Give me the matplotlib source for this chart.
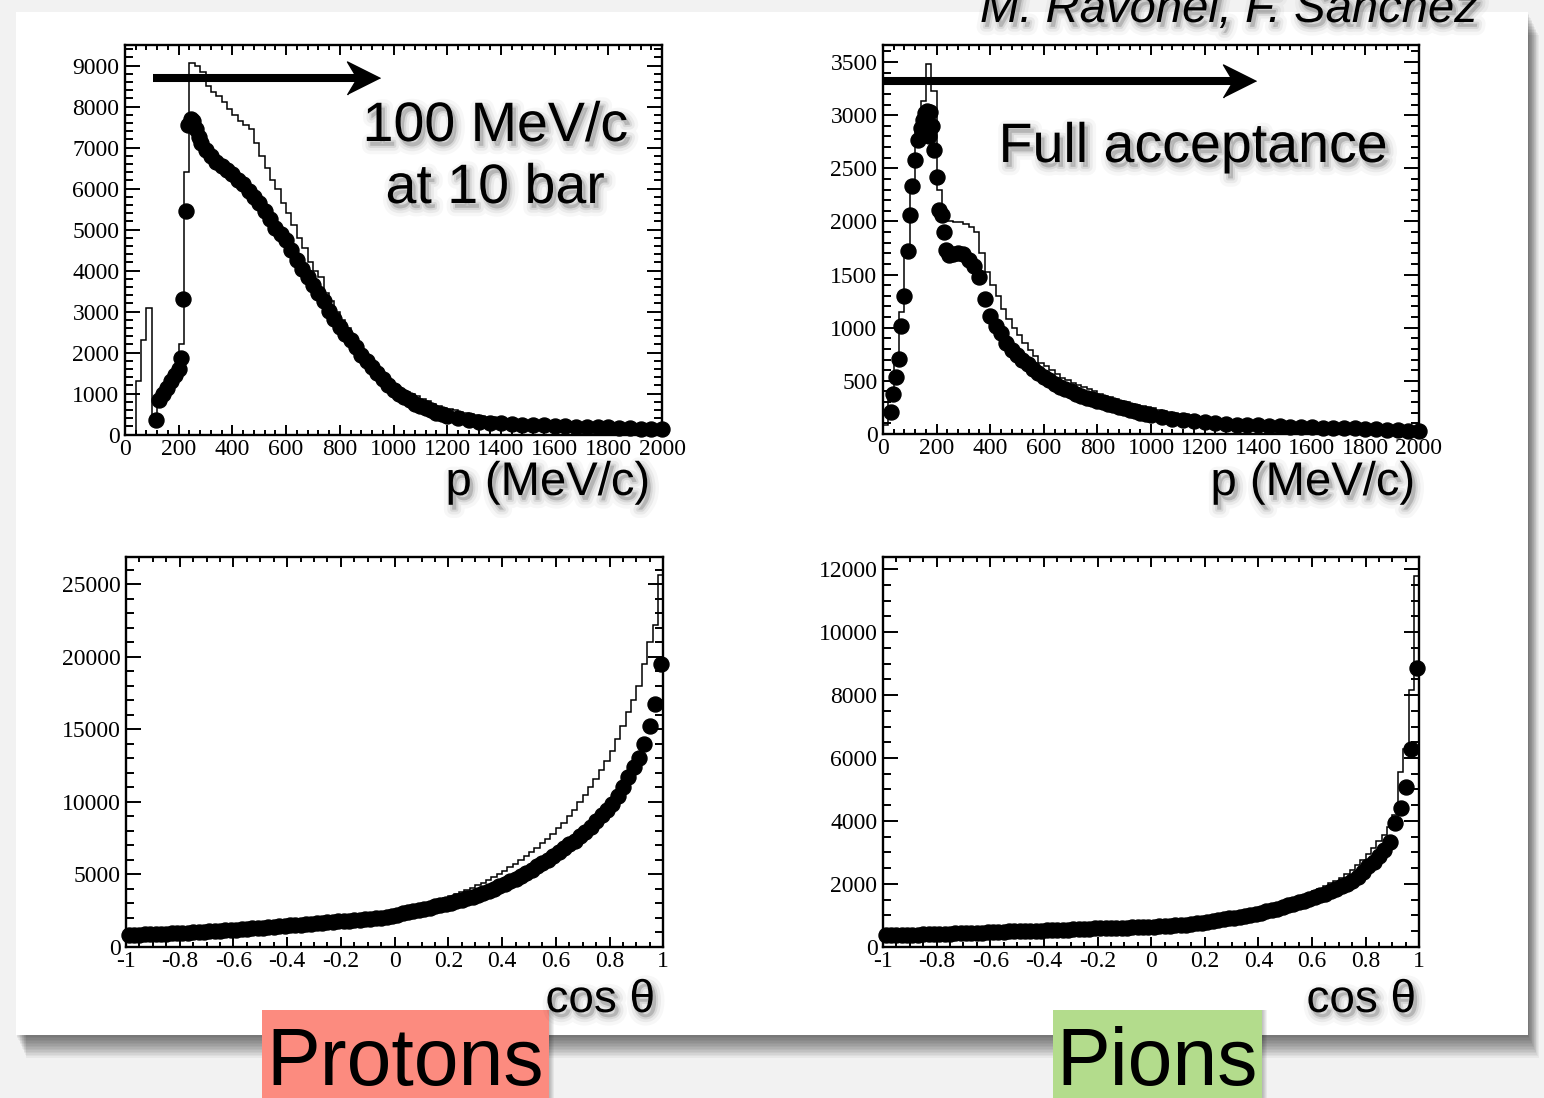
import numpy as np
import matplotlib
matplotlib.use('Agg')
import matplotlib.pyplot as plt
from matplotlib.patches import Rectangle
import matplotlib.patheffects as pe
from matplotlib.ticker import MultipleLocator, FuncFormatter

# ---------------- data ----------------
# Top-left: protons, momentum (MeV/c), 20 MeV bins 0..2000
P_EDGES = np.arange(0, 2001, 20)
PROTON_P_HIST = [0, 0, 1300, 2300, 3100, 400, 1000, 1200, 1400, 1600,
                 2200, 6400, 9050, 9000, 8850, 8500, 8350, 8250, 8100, 7950,
                 7800, 7650, 7550, 7450, 7100, 6800, 6500, 6200, 6000, 5650,
                 5400, 5100, 4800, 4550, 4200, 4000, 3850, 3450, 3250, 3000,
                 2800, 2600, 2350, 2200, 2000, 1850, 1750, 1600, 1450, 1300,
                 1200, 1100, 1050, 1000, 940, 880, 820, 760, 700, 650,
                 620, 590, 560, 530, 500, 480, 460, 440, 420, 400,
                 390, 375, 360, 350, 340, 330, 320, 310, 305, 300,
                 295, 290, 285, 280, 275, 270, 265, 260, 255, 250,
                 245, 240, 235, 230, 225, 220, 215, 210, 205, 200]
PROTON_P_DOT_X = [115, 125, 140, 155, 170, 185, 200, 208, 217, 226,
                  234, 244, 254, 264, 274, 284, 300, 320, 340, 360,
                  380, 400, 420, 440, 460, 480, 500, 520, 540, 560,
                  580, 600, 620, 640, 660, 680, 700, 720, 740, 760,
                  780, 800, 820, 840, 860, 880, 900, 920, 940, 960,
                  980, 1000, 1020, 1040, 1060, 1080, 1100, 1120, 1140, 1160,
                  1180, 1200, 1240, 1280, 1320, 1360, 1400, 1440, 1480, 1520,
                  1560, 1600, 1640, 1680, 1720, 1760, 1800, 1840, 1880, 1920,
                  1960, 2000]
PROTON_P_DOT_Y = [350, 850, 1000, 1150, 1300, 1450, 1600, 1860, 3300, 5450,
                  7550, 7700, 7650, 7450, 7250, 7100, 6950, 6800, 6650, 6550,
                  6450, 6350, 6200, 6100, 5950, 5800, 5650, 5450, 5250, 5050,
                  4900, 4750, 4500, 4250, 4050, 3850, 3650, 3450, 3250, 3020,
                  2820, 2620, 2450, 2300, 2150, 1950, 1800, 1650, 1500, 1350,
                  1200, 1100, 1000, 920, 840, 760, 700, 640, 590, 540,
                  500, 460, 400, 350, 315, 290, 275, 260, 245, 235,
                  225, 215, 205, 195, 190, 185, 180, 170, 160, 150,
                  140, 130]

# Top-right: pions, momentum
PION_P_HIST = [80, 350, 700, 1150, 1750, 2350, 2880, 3130, 3480, 3230,
               2300, 2100, 2000, 1990, 1990, 1980, 1950, 1900, 1700, 1520,
               1400, 1300, 1180, 1080, 1000, 930, 860, 790, 730, 670,
               640, 600, 560, 530, 505, 480, 460, 440, 420, 400,
               380, 360, 345, 330, 315, 300, 285, 270, 260, 250,
               240, 230, 220, 210, 200, 192, 184, 176, 168, 160,
               153, 146, 140, 134, 128, 123, 118, 113, 108, 104,
               100, 96, 92, 89, 86, 83, 80, 77, 75, 72,
               70, 68, 66, 64, 62, 60, 58, 57, 55, 54,
               52, 51, 50, 48, 47, 46, 45, 44, 43, 42]
PION_P_DOT_X = [28, 38, 48, 58, 68, 80, 92, 102, 110, 120,
                130, 140, 148, 156, 166, 170, 176, 184, 192, 202,
                210, 220, 228, 236, 248, 260, 280, 300, 320, 340,
                360, 380, 400, 420, 440, 460, 480, 500, 520, 540,
                560, 580, 600, 620, 640, 660, 680, 700, 720, 740,
                760, 780, 800, 820, 840, 860, 880, 900, 920, 940,
                960, 980, 1000, 1040, 1080, 1120, 1160, 1200, 1240, 1280,
                1320, 1360, 1400, 1440, 1480, 1520, 1560, 1600, 1640, 1680,
                1720, 1760, 1800, 1840, 1880, 1920, 1960, 2000]
PION_P_DOT_Y = [210, 380, 540, 710, 1020, 1300, 1720, 2060, 2330, 2580,
                2770, 2880, 2950, 3020, 3040, 2800, 3030, 2900, 2670, 2420,
                2110, 2060, 1900, 1730, 1680, 1690, 1700, 1690, 1640, 1580,
                1480, 1270, 1110, 1020, 950, 860, 790, 740, 695, 660,
                615, 575, 540, 505, 470, 445, 425, 400, 380, 360,
                340, 325, 312, 298, 284, 272, 258, 243, 228, 214,
                202, 190, 178, 160, 140, 130, 120, 110, 102, 95,
                88, 84, 80, 75, 72, 68, 66, 62, 60, 57,
                55, 52, 50, 45, 40, 35, 30, 25]

# Bottom: cos(theta), 100 bins from -1 to 1
C_EDGES = np.linspace(-1, 1, 101)
PROTON_C_HIST = [950, 960, 970, 985, 1000, 1010, 1025, 1040, 1055, 1070,
                 1090, 1110, 1130, 1150, 1170, 1190, 1210, 1235, 1260, 1285,
                 1310, 1340, 1370, 1400, 1430, 1460, 1490, 1520, 1550, 1580,
                 1610, 1640, 1670, 1700, 1735, 1770, 1805, 1840, 1875, 1910,
                 1950, 1990, 2030, 2070, 2110, 2150, 2200, 2250, 2300, 2360,
                 2430, 2500, 2580, 2680, 2780, 2880, 2990, 3100, 3220, 3340,
                 3470, 3600, 3740, 3890, 4050, 4220, 4400, 4600, 4800, 5020,
                 5250, 5480, 5720, 5980, 6250, 6530, 6820, 7120, 7450, 7800,
                 8170, 8560, 9000, 9450, 9950, 10450, 11000, 11550, 12150, 12800,
                 13500, 14300, 15200, 16200, 17000, 18000, 19500, 21000, 22200, 25600]
PROTON_C_DOT = [800, 815, 830, 845, 860, 875, 890, 905, 920, 940,
                955, 975, 995, 1015, 1035, 1060, 1080, 1100, 1125, 1150,
                1175, 1200, 1230, 1260, 1290, 1320, 1350, 1380, 1410, 1440,
                1470, 1500, 1530, 1560, 1590, 1620, 1650, 1680, 1710, 1740,
                1770, 1800, 1830, 1860, 1890, 1920, 1950, 1990, 2040, 2110,
                2200, 2290, 2380, 2470, 2550, 2630, 2700, 2780, 2860, 2950,
                3040, 3140, 3240, 3350, 3460, 3580, 3710, 3850, 4000, 4160,
                4330, 4500, 4690, 4890, 5100, 5320, 5540, 5770, 6010, 6270,
                6550, 6800, 7050, 7300, 7600, 7900, 8250, 8650, 9050, 9450,
                9850, 10400, 11000, 11700, 12400, 13000, 14000, 15250, 16750, 19500]
PION_C_HIST = [420, 410, 415, 420, 425, 430, 435, 440, 445, 450,
               455, 460, 465, 470, 475, 480, 490, 495, 500, 510,
               515, 520, 530, 535, 540, 545, 550, 555, 560, 570,
               575, 580, 585, 595, 600, 605, 615, 620, 630, 635,
               640, 650, 655, 660, 670, 675, 680, 690, 695, 700,
               710, 720, 730, 745, 760, 775, 790, 810, 830, 850,
               875, 900, 925, 955, 985, 1015, 1050, 1085, 1120, 1160,
               1200, 1245, 1290, 1340, 1390, 1445, 1500, 1560, 1620, 1690,
               1760, 1840, 1920, 2010, 2100, 2200, 2300, 2450, 2600, 2750,
               2950, 3150, 3350, 3550, 3800, 4200, 5550, 6300, 8150, 11800]
PION_C_DOT = [370, 360, 365, 370, 375, 380, 385, 390, 395, 400,
              405, 410, 415, 420, 425, 430, 435, 440, 450, 460,
              465, 470, 478, 485, 490, 495, 500, 505, 510, 515,
              520, 525, 530, 540, 545, 550, 555, 565, 570, 580,
              585, 590, 595, 600, 605, 610, 615, 620, 625, 630,
              640, 650, 660, 670, 680, 690, 705, 725, 745, 765,
              790, 820, 850, 875, 900, 925, 950, 980, 1010, 1045,
              1080, 1120, 1160, 1210, 1260, 1310, 1360, 1410, 1460, 1520,
              1570, 1630, 1690, 1760, 1840, 1920, 2000, 2100, 2220, 2380,
              2560, 2700, 2880, 3080, 3340, 3920, 4400, 5090, 6290, 8850]

# ---------------- figure ----------------
W, H = 1544, 1098
plt.rcParams['font.family'] = ['Liberation Serif', 'DejaVu Serif']
fig = plt.figure(figsize=(W / 100, H / 100), dpi=100)
fig.patch.set_facecolor('#f2f2f2')


def fx(px):
    return px / W


def fy(py):
    return 1 - py / H


# card with drop shadow
cx0, cy0, cx1, cy1 = 16, 12, 1528, 1035
for k in range(1, 16):
    fig.patches.append(Rectangle((fx(cx0 + 0.7 * k), fy(cy1 + 1.5 * k)),
                                 (cx1 - cx0) / W, (cy1 - cy0) / H,
                                 transform=fig.transFigure, facecolor='black',
                                 edgecolor='none', alpha=0.045, zorder=0))
fig.patches.append(Rectangle((fx(cx0), fy(cy1)), (cx1 - cx0) / W, (cy1 - cy0) / H,
                             transform=fig.transFigure, facecolor='white',
                             edgecolor='none', zorder=1))


def fmt(v, pos):
    v = round(v, 6)
    if abs(v) < 1e-9:
        v = 0
    return f'{v:g}'


def make_ax(x0, y0, x1, y1, xlim, ylim, xmaj, xmin, ymaj, ymin):
    ax = fig.add_axes([fx(x0), fy(y1), (x1 - x0) / W, (y1 - y0) / H])
    ax.set_zorder(2)
    ax.set_facecolor('white')
    ax.set_xlim(*xlim)
    ax.set_ylim(*ylim)
    ax.xaxis.set_major_locator(MultipleLocator(xmaj))
    ax.xaxis.set_minor_locator(MultipleLocator(xmin))
    ax.yaxis.set_major_locator(MultipleLocator(ymaj))
    ax.yaxis.set_minor_locator(MultipleLocator(ymin))
    ax.xaxis.set_major_formatter(FuncFormatter(fmt))
    ax.yaxis.set_major_formatter(FuncFormatter(fmt))
    ax.tick_params(which='both', direction='in', top=True, right=True,
                   width=1.4, colors='black', labelsize=17)
    ax.tick_params(axis='y', which='major', length=11, pad=4)
    ax.tick_params(axis='y', which='minor', length=5.8)
    ax.tick_params(axis='x', which='major', length=7.5, pad=3)
    ax.tick_params(axis='x', which='minor', length=3.8)
    for s in ax.spines.values():
        s.set_linewidth(1.7)
    return ax


ax_tl = make_ax(125, 45, 662, 434.7, (0, 2000), (0, 9500), 200, 40, 1000, 200)
ax_tr = make_ax(883, 45, 1419, 434, (0, 2000), (0, 3660), 200, 40, 500, 100)
ax_bl = make_ax(126, 557.3, 663.3, 946.7, (-1, 1), (0, 26850), 0.2, 0.05, 5000, 1000)
ax_br = make_ax(883, 557.3, 1419.3, 946.7, (-1, 1), (0, 12380), 0.2, 0.05, 2000, 500)

MS = 10.8
for ax, edges, hist, dx, dy in [
        (ax_tl, P_EDGES, PROTON_P_HIST, PROTON_P_DOT_X, PROTON_P_DOT_Y),
        (ax_tr, P_EDGES, PION_P_HIST, PION_P_DOT_X, PION_P_DOT_Y),
        (ax_bl, C_EDGES, PROTON_C_HIST, None, PROTON_C_DOT),
        (ax_br, C_EDGES, PION_C_HIST, None, PION_C_DOT)]:
    ax.stairs(hist, edges, color='black', lw=1.1, baseline=0, zorder=2)
    if dx is None:
        dx = 0.5 * (edges[:-1] + edges[1:])
    ax.plot(dx, dy, 'o', ms=MS, color='black', mec='black', clip_on=False, zorder=3)

# arrows
HEAD = [(0, 0), (-2, 1), (-1.4, 0), (-2, -1)]
ax_tl.plot([103, 890], [8690, 8690], color='black', lw=5.8, solid_capstyle='butt',
           clip_on=False, zorder=4)
ax_tl.plot([950], [8690], marker=HEAD, ms=47.5, color='black', clip_on=False, zorder=4)
ax_tr.plot([0, 1335], [3320, 3320], color='black', lw=5.8, solid_capstyle='butt',
           clip_on=False, zorder=4)
ax_tr.plot([1393], [3320], marker=HEAD, ms=47.5, color='black', clip_on=False, zorder=4)


# texts with soft shadows
def shadow(off=(2.5, -3.5)):
    return [pe.Stroke(offset=off, linewidth=12, foreground='black', alpha=0.03),
            pe.Stroke(offset=off, linewidth=7, foreground='black', alpha=0.05),
            pe.Stroke(offset=off, linewidth=3, foreground='black', alpha=0.08),
            pe.Normal()]


SANS = ['Liberation Sans', 'DejaVu Sans']


def ftext(x, y, s, size, ha='center', **kw):
    return fig.text(fx(x), fy(y), s, fontsize=size, ha=ha, va='baseline',
                    family=SANS, color='black', zorder=6,
                    path_effects=shadow(), **kw)


ftext(495, 141, '100 MeV/c', 40)
ftext(495, 203, 'at 10 bar', 40)
ftext(1193, 162, 'Full acceptance', 40)
ftext(650, 495, 'p (MeV/c)', 34, ha='right')
ftext(1415, 495, 'p (MeV/c)', 34, ha='right')
ftext(655, 1012, 'cos θ', 33, ha='right')
ftext(1416, 1012, 'cos θ', 33, ha='right')
ftext(980, 22, 'M. Ravonel, F. Sanchez', 34, ha='left', style='italic')

# coloured labels
for (x0, x1, col, label) in [(262, 549, '#fc8b7f', 'Protons'),
                             (1053, 1262, '#b3dc8c', 'Pions')]:
    for k in range(1, 6):
        fig.patches.append(Rectangle((fx(x0 + k), fy(1098)), (x1 - x0) / W, (1098 - 1010) / H,
                                     transform=fig.transFigure, facecolor='black',
                                     edgecolor='none', alpha=0.05, zorder=4))
    fig.patches.append(Rectangle((fx(x0), fy(1098)), (x1 - x0) / W, (1098 - 1010) / H,
                                 transform=fig.transFigure, facecolor=col,
                                 edgecolor='none', zorder=5))
    fig.text(fx((x0 + x1) / 2), fy(1085), label, fontsize=58, ha='center',
             va='baseline', family=SANS, color='black', zorder=6)

fig.savefig('out.png', dpi=100, facecolor=fig.get_facecolor())
